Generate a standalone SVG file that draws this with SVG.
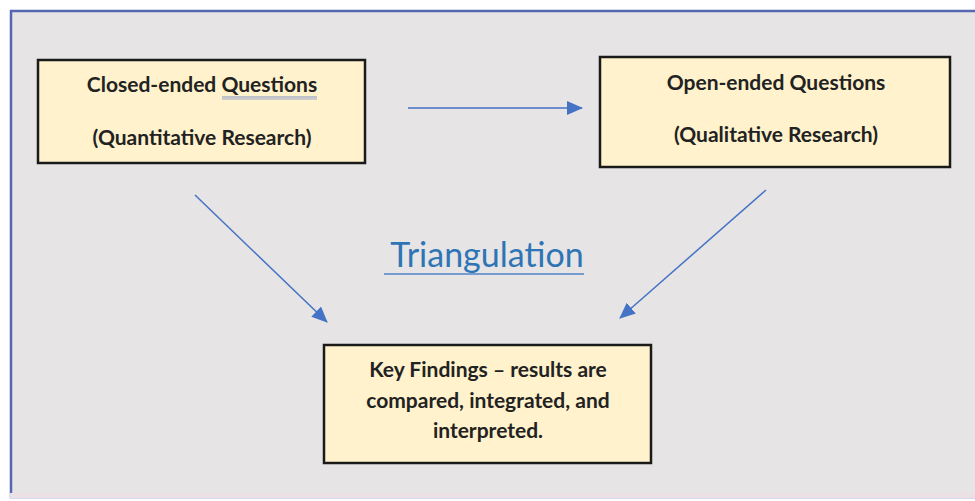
<svg xmlns="http://www.w3.org/2000/svg" width="975" height="501" viewBox="0 0 975 501">
  <defs>
    <marker id="arrowHead" markerWidth="16" markerHeight="14" refX="15" refY="7" orient="auto" markerUnits="userSpaceOnUse" viewBox="0 0 16 14">
      <path d="M0,0 L16,7 L0,14 Z" fill="#4472c4"/>
    </marker>
  </defs>
  <style>
    .box { fill: #fff2cc; stroke: #1a1a1a; stroke-width: 2.5; }
    .label { font-family: Lato, "Open Sans", "Liberation Sans", sans-serif; font-size: 21px; font-weight: 700; fill: #222222; text-anchor: middle; }
    .conn { stroke: #4472c4; stroke-width: 1.5; fill: none; marker-end: url(#arrowHead); }
  </style>
  <rect x="0" y="0" width="975" height="501" fill="#ffffff"/>
  <!-- panel -->
  <rect x="11" y="11" width="970" height="486" fill="#e6e4e5" stroke="#5567b0" stroke-width="2.5"/>
  <rect x="10" y="493" width="965" height="5" fill="#ebe0e6"/>

  <g id="closed-ended">
    <rect class="box" x="38" y="60" width="327" height="103"/>
    <text class="label" x="202" y="92">Closed-ended Questions</text>
    <line x1="222" y1="97" x2="317" y2="97" stroke="#7f93c8" stroke-width="1"/>
    <line x1="222" y1="99" x2="317" y2="99" stroke="#9aa6c9" stroke-width="1"/>
    <text class="label" x="202" y="145">(Quantitative Research)</text>
  </g>

  <g id="open-ended">
    <rect class="box" x="600" y="57" width="350" height="110"/>
    <text class="label" x="776" y="90">Open-ended Questions</text>
    <text class="label" x="776" y="142">(Qualitative Research)</text>
  </g>

  <g id="key-findings">
    <rect class="box" x="324" y="345" width="327" height="118"/>
    <text class="label" x="488" y="377">Key Findings – results are</text>
    <text class="label" x="488" y="408">compared, integrated, and</text>
    <text class="label" x="488" y="438">interpreted.</text>
  </g>

  <g id="triangulation-title">
    <text x="487" y="267" font-family="Lato, 'Open Sans', 'Liberation Sans', sans-serif" font-size="34" fill="#2e75b6" text-anchor="middle">Triangulation</text>
    <line x1="384" y1="274" x2="584" y2="274" stroke="#4f86c6" stroke-width="1.5"/>
  </g>

  <g id="connectors">
    <line class="conn" x1="408" y1="108" x2="582" y2="108"/>
    <line class="conn" x1="195" y1="195" x2="327" y2="322"/>
    <line class="conn" x1="766" y1="190" x2="620" y2="318"/>
  </g>
</svg>
